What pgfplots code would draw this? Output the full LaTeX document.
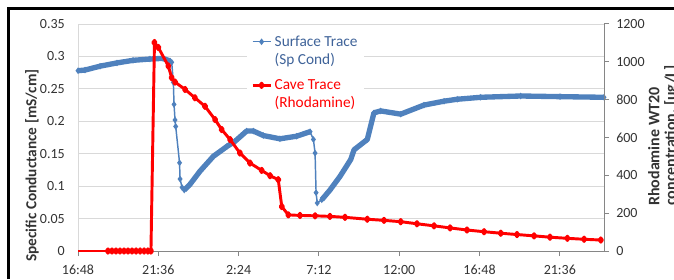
\documentclass[border=0pt]{standalone}
\usepackage{pgfplots}
\pgfplotsset{compat=1.18}
\usepackage{pgfplotstable}
\usepackage{fontspec}
\setmainfont{Carlito}
\definecolor{sblue}{HTML}{4F81BD}
\definecolor{lblue}{HTML}{3F6399}
\definecolor{gridgray}{HTML}{D9D9D9}
\definecolor{axisgray}{HTML}{868686}
\definecolor{ticktext}{HTML}{333333}

% hours after 16:48, specific conductance (mS/cm)
\pgfplotstableread{
h v
0.00 0.278
0.42 0.279
1.32 0.285
2.33 0.290
3.29 0.294
4.30 0.296
5.08 0.297
5.50 0.293
5.60 0.291
5.70 0.260
5.74 0.226
5.80 0.202
5.84 0.192
6.07 0.136
6.10 0.111
6.22 0.098
6.35 0.094
6.70 0.103
7.29 0.123
8.09 0.146
8.89 0.161
9.38 0.169
10.08 0.185
10.48 0.185
11.08 0.178
12.07 0.173
13.07 0.177
13.87 0.184
14.07 0.172
14.17 0.151
14.23 0.090
14.30 0.074
14.57 0.079
15.06 0.094
15.66 0.115
16.30 0.141
16.50 0.156
17.29 0.172
17.69 0.213
18.09 0.216
19.29 0.211
20.68 0.225
21.88 0.231
22.67 0.234
24.07 0.237
26.46 0.239
28.81 0.238
31.44 0.237
}\surface

% hours after 16:48, rhodamine (ug/L)
\pgfplotstableread{
h r
1.79 0
2.03 0
2.27 0
2.51 0
2.75 0
2.99 0
3.23 0
3.47 0
3.71 0
3.95 0
4.18 0
4.36 0
4.57 1102
4.80 1076
5.40 978
5.60 916
5.80 893
6.40 854
6.99 810
7.59 765
8.19 695
8.59 642
9.09 589
9.68 518
10.28 465
10.98 426
11.48 398
11.97 377
12.18 235
12.57 191
13.27 188
14.17 186
15.06 183
15.96 178
17.29 168
18.29 162
19.29 155
20.26 144
21.28 133
22.24 122
23.25 111
24.27 102
25.27 94
26.24 87
27.26 80
28.21 73
29.25 67
30.25 62
31.25 58
}\cave

\begin{document}
\begin{tikzpicture}
\useasboundingbox (0,0) rectangle (505.5pt,209.25pt);
\begin{axis}[
  at={(58.5pt,21pt)}, anchor=south west,
  scale only axis, width=394.5pt, height=170.25pt,
  xmin=0, xmax=31.44, ymin=0, ymax=0.35,
  axis x line*=bottom, axis y line*=left,
  x axis line style={draw=axisgray, line width=0.75pt},
  y axis line style={draw=gridgray, line width=0.75pt},
  xtick={0,4.8,9.6,14.4,19.2,24,28.8},
  xticklabels={16:48,21:36,2:24,7:12,12:00,16:48,21:36},
  ytick={0,0.05,0.1,0.15,0.2,0.25,0.3,0.35},
  yticklabels={0,0.05,0.1,0.15,0.2,0.25,0.3,0.35},
  ymajorgrids, major grid style={draw=gridgray, line width=0.75pt},
  tick align=outside, major tick length=3.75pt,
  x tick style={draw=axisgray, line width=0.75pt},
  y tick style={draw=none},
  tick label style={font=\fontsize{10.5}{12}\selectfont, text=ticktext},
  xticklabel style={inner sep=0pt, yshift=-6.75pt},
  yticklabel style={inner sep=0pt, xshift=-6pt},
  /pgf/number format/assume math mode=true,
  scaled ticks=false,
  unbounded coords=jump,
]
\addplot[sblue, line width=4pt, line join=round, forget plot,
  x filter/.expression={((x>5.55 && x<6.3) || (x>14.0 && x<14.5)) ? nan : x}]
  table[x=h,y=v]{\surface};
\addplot[sblue, line width=1.1pt, mark=diamond*, mark size=1.6pt] table[x=h,y=v]{\surface};
\end{axis}
\begin{axis}[
  at={(58.5pt,21pt)}, anchor=south west,
  scale only axis, width=394.5pt, height=170.25pt,
  xmin=0, xmax=31.44, ymin=0, ymax=1200,
  axis x line=none, axis y line*=right,
  y axis line style={draw=axisgray, line width=0.75pt},
  ytick={0,200,400,600,800,1000,1200},
  tick align=outside, major tick length=3.75pt,
  y tick style={draw=axisgray, line width=0.75pt},
  yticklabel style={font=\fontsize{10.5}{12}\selectfont, text=ticktext, inner sep=0pt, xshift=5.25pt},
  /pgf/number format/1000 sep={},
  /pgf/number format/assume math mode=true,
  scaled ticks=false,
  legend style={at={(0.321,0.974)}, anchor=north west, draw=none, fill=white,
    font=\fontsize{11.5}{13.5}\selectfont, cells={align=left}, row sep=6pt},
  legend cell align=left,
  legend image code/.code={%
    \path[draw=none, fill=none] (0pt,-8.5pt) rectangle (0.1pt,8.5pt);
    \draw[mark repeat=2,mark phase=2,#1] plot coordinates {(0pt,6.75pt) (6.75pt,6.75pt) (13.5pt,6.75pt)};},
]
\addlegendimage{sblue, line width=1.1pt, mark=diamond*, mark size=1.6pt}
\addlegendentry[text=lblue]{Surface Trace\\(Sp Cond)}
\addplot[red, line width=2.2pt, forget plot] coordinates {(0,0) (1.79,0)};
\addplot[red, line width=2.2pt, line join=round, mark=diamond*, mark size=1.6pt] table[x=h,y=r]{\cave};
\addlegendentry[text=red]{Cave Trace\\(Rhodamine)}
\end{axis}
\node[rotate=90, anchor=west, inner sep=0pt, font=\fontsize{11.5}{14}\selectfont\bfseries, text=ticktext] at (24pt,12.75pt) {Specific Conductance [mS/cm]};
\node[rotate=90, anchor=west, align=left, inner sep=0pt, font=\fontsize{12}{12.5}\selectfont\bfseries, text=ticktext] at (497.5pt,54.75pt) {Rhodamine WT20\\concentration, [ug/L]};
\draw[line width=2.25pt] (6.4pt,0pt) -- (6.4pt,202.9pt) -- (505.5pt,202.9pt);
\end{tikzpicture}
\end{document}
